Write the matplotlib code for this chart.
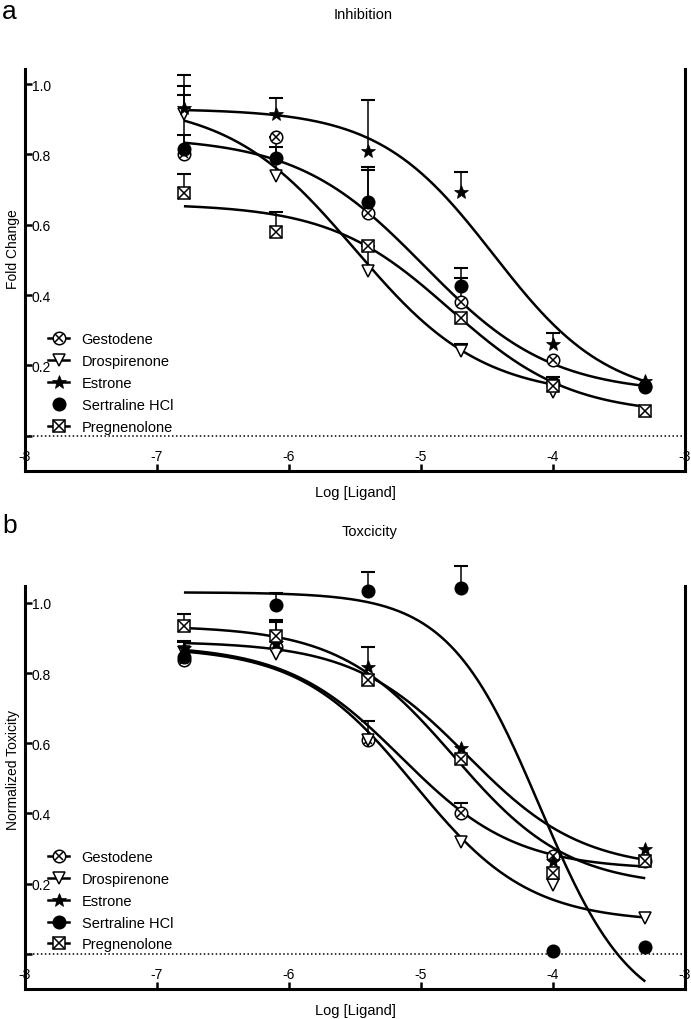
import numpy as np
import matplotlib
matplotlib.use("Agg")
import matplotlib.pyplot as plt
from matplotlib.lines import Line2D
from matplotlib.legend_handler import HandlerTuple

plt.rcParams['font.family'] = ['Liberation Sans', 'DejaVu Sans']

nan = np.nan
log_conc = [-6.796, -6.097, -5.398, -4.699, -4.0, -3.301]
compounds = ['Gestodene', 'Drospirenone', 'Estrone', 'Sertraline HCl', 'Pregnenolone']
x_ticks = [-8, -7, -6, -5, -4, -3]
y_ticks = [0.0, 0.2, 0.4, 0.6, 0.8, 1.0]
y_tick_labels = ['', '0.2', '0.4', '0.6', '0.8', '1.0']

# ---- Panel a: Inhibition (fold change), mean and upper error ----
inh_gestodene = [0.800, 0.849, 0.634, 0.380, 0.216, 0.141]
inh_drospirenone = [0.915, 0.740, 0.470, 0.242, 0.124, nan]
inh_estrone = [0.931, 0.915, 0.810, 0.692, 0.261, 0.157]
inh_sertraline = [0.815, 0.790, 0.664, 0.427, 0.150, 0.140]
inh_pregnenolone = [0.690, 0.579, 0.541, 0.334, 0.143, 0.072]

inh_gestodene_err = [0.195, 0.0, 0.123, 0.068, 0.0, 0.0]
inh_drospirenone_err = [0.054, 0.080, 0.070, 0.019, 0.0, 0.0]
inh_estrone_err = [0.096, 0.045, 0.145, 0.057, 0.032, 0.0]
inh_sertraline_err = [0.040, 0.060, 0.099, 0.049, 0.0, 0.0]
inh_pregnenolone_err = [0.054, 0.058, 0.0, 0.0, 0.025, 0.0]

# fitted 4-parameter curves: top, bottom, logEC50, hill, x-end
inh_fit_gestodene = [0.85, 0.12, -4.98, 0.9, -3.301]
inh_fit_drospirenone = [0.95, 0.11, -5.50, 0.9, -4.0]
inh_fit_estrone = [0.93, 0.10, -4.45, 1.0, -3.301]
inh_fit_sertraline = None
inh_fit_pregnenolone = [0.66, 0.06, -4.78, 0.95, -3.301]

# ---- Panel b: Toxicity (normalized), mean and upper error ----
tox_gestodene = [0.836, 0.875, 0.608, 0.402, 0.280, 0.265]
tox_drospirenone = [0.860, 0.855, 0.610, 0.320, 0.195, 0.102]
tox_estrone = [0.870, 0.885, 0.817, 0.586, 0.266, 0.299]
tox_sertraline = [0.845, 0.994, 1.035, 1.043, 0.008, 0.019]
tox_pregnenolone = [0.933, 0.905, 0.779, 0.556, 0.231, 0.266]

tox_gestodene_err = [0.0, 0.0, 0.055, 0.028, 0.0, 0.0]
tox_drospirenone_err = [0.0, 0.0, 0.0, 0.0, 0.0, 0.0]
tox_estrone_err = [0.020, 0.060, 0.057, 0.0, 0.0, 0.0]
tox_sertraline_err = [0.044, 0.034, 0.054, 0.061, 0.0, 0.0]
tox_pregnenolone_err = [0.036, 0.045, 0.0, 0.0, 0.0, 0.0]

tox_fit_gestodene = [0.88, 0.24, -5.15, 1.0, -3.301]
tox_fit_drospirenone = [0.875, 0.09, -5.05, 1.0, -3.301]
tox_fit_estrone = [0.89, 0.24, -4.65, 1.0, -3.301]
tox_fit_sertraline = [1.03, -0.19, -4.10, 1.25, -3.301]
tox_fit_pregnenolone = [0.935, 0.19, -4.75, 1.0, -3.301]

MS = 9.0
MEW = 1.1
LW = 1.8

def marker_layers(name):
    """Return list of plot kwargs (marker layers) for a compound."""
    if name == 'Gestodene':
        return [dict(marker='o', mfc='white', mec='k', ms=MS, mew=MEW),
                dict(marker='x', mfc='none', mec='k', ms=MS * 0.68, mew=MEW)]
    if name == 'Drospirenone':
        return [dict(marker='v', mfc='white', mec='k', ms=MS, mew=MEW)]
    if name == 'Estrone':
        return [dict(marker='*', mfc='k', mec='k', ms=MS + 1.5, mew=0.5)]
    if name == 'Sertraline HCl':
        return [dict(marker='o', mfc='k', mec='k', ms=MS, mew=MEW)]
    return [dict(marker='s', mfc='white', mec='k', ms=MS * 0.95, mew=MEW),
            dict(marker='x', mfc='none', mec='k', ms=MS * 0.95, mew=MEW)]


def four_pl(xs, p):
    top, bottom, ec50, hill, _ = p
    return bottom + (top - bottom) / (1.0 + 10 ** ((xs - ec50) * hill))


def draw_panel(ax, series, errs, fits, ylabel, show_line):
    x = np.array(log_conc)
    # fitted curves
    for p in fits:
        if p is None:
            continue
        xs = np.linspace(log_conc[0], p[4], 300)
        ax.plot(xs, four_pl(xs, p), color='k', lw=LW, zorder=2, solid_capstyle='butt')
    # error bars (upper only)
    for y, e in zip(series, errs):
        y = np.array(y, dtype=float)
        e = np.array(e, dtype=float)
        m = (e > 0) & ~np.isnan(y)
        ax.vlines(x[m], y[m], y[m] + e[m], color='k', lw=1.1, zorder=2.5, clip_on=False)
        ax.plot(x[m], y[m] + e[m], ls='none', marker='_', ms=10, mew=1.5,
                color='k', zorder=2.5, clip_on=False)
    # markers
    for k, (name, y) in enumerate(zip(compounds, series)):
        for j, layer in enumerate(marker_layers(name)):
            ax.plot(x, y, ls='none', zorder=3 + k * 0.1 + j * 0.01, clip_on=False, **layer)
    # zero line
    ax.axhline(0, color='k', lw=1.1, ls=(0, (1, 1.6)), zorder=1)

    ax.set_xlim(-8, -3)
    ax.set_xticks(x_ticks)
    ax.set_xticklabels([str(t) for t in x_ticks])
    ax.set_yticks(y_ticks)
    ax.set_yticklabels(y_tick_labels)
    ax.tick_params(axis='x', direction='in', length=5, width=1.8, pad=-16,
                   labelsize=10)
    ax.tick_params(axis='y', direction='in', length=5, width=1.8, pad=-5,
                   labelsize=10)
    plt.setp(ax.get_yticklabels(), ha='left')
    for s in ['left', 'right', 'bottom']:
        ax.spines[s].set_linewidth(2.2)
    ax.spines['top'].set_visible(False)

    ax.set_xlabel('Log [Ligand]', fontsize=10.5)
    ax.xaxis.set_label_coords(0.5, -0.035)
    ax.set_ylabel(ylabel, fontsize=10)

    # legend
    handles = []
    for name in compounds:
        layers = marker_layers(name)
        hs = []
        for j, layer in enumerate(layers):
            if j == 0 and show_line[name]:
                hs.append(Line2D([], [], color='k', lw=LW, **layer))
            else:
                hs.append(Line2D([], [], ls='none', **layer))
        handles.append(tuple(hs))
    leg = ax.legend(handles, compounds, handler_map={tuple: HandlerTuple(ndivide=1)},
                    loc='center left', bbox_to_anchor=(0.035, 0.219), frameon=False,
                    fontsize=10.5, handlelength=1.45, handletextpad=0.85,
                    labelspacing=0.54, borderpad=0, borderaxespad=0)
    return leg


fig = plt.figure(figsize=(6.91, 10.20), dpi=100)
W, H = 691.0, 1020.0

ax_a = fig.add_axes([25 / W, 1 - 472 / H, 660 / W, 402 / H])
ax_b = fig.add_axes([25 / W, 1 - 990 / H, 660 / W, 403 / H])

draw_panel(ax_a,
           [inh_gestodene, inh_drospirenone, inh_estrone, inh_sertraline, inh_pregnenolone],
           [inh_gestodene_err, inh_drospirenone_err, inh_estrone_err, inh_sertraline_err,
            inh_pregnenolone_err],
           [inh_fit_gestodene, inh_fit_drospirenone, inh_fit_estrone, inh_fit_sertraline,
            inh_fit_pregnenolone],
           'Fold Change',
           {'Gestodene': True, 'Drospirenone': True, 'Estrone': True,
            'Sertraline HCl': False, 'Pregnenolone': True})
ax_a.set_ylim(-0.1, 1.043)
ax_a.yaxis.set_label_coords(-0.008, 0.555)

draw_panel(ax_b,
           [tox_gestodene, tox_drospirenone, tox_estrone, tox_sertraline, tox_pregnenolone],
           [tox_gestodene_err, tox_drospirenone_err, tox_estrone_err, tox_sertraline_err,
            tox_pregnenolone_err],
           [tox_fit_gestodene, tox_fit_drospirenone, tox_fit_estrone, tox_fit_sertraline,
            tox_fit_pregnenolone],
           'Normalized Toxicity',
           {name: True for name in compounds})
ax_b.set_ylim(-0.1, 1.048)
ax_b.yaxis.set_label_coords(-0.008, 0.546)

fig.text(363 / W, 1 - 15 / H, 'Inhibition', ha='center', va='center', fontsize=10.5)
fig.text(370 / W, 1 - 532 / H, 'Toxcicity', ha='center', va='center', fontsize=10.5)
fig.text(2 / W, 1 - 19 / H, 'a', ha='left', va='baseline', fontsize=19)
fig.text(2 / W, 1 - 533 / H, 'b', ha='left', va='baseline', fontsize=19)

fig.savefig('out.png', dpi=100)
